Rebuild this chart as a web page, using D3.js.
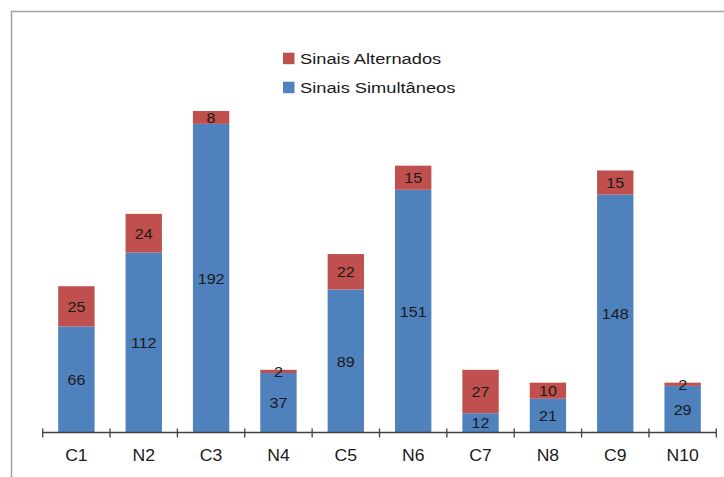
<!DOCTYPE html>
<html>
<head>
<meta charset="utf-8">
<script src="https://cdn.jsdelivr.net/npm/d3@7"></script>
<style>
  body { margin: 0; background: #fff; }
  text { font-family: "Liberation Sans", Arial, sans-serif; fill: #1a1a1a; }
</style>
</head>
<body>
<script>
// categories and the two stacked series
var categories = ["C1", "N2", "C3", "N4", "C5", "N6", "C7", "N8", "C9", "N10"];
var simultaneos = [66, 112, 192, 37, 89, 151, 12, 21, 148, 29];
var alternados = [25, 24, 8, 2, 22, 15, 27, 10, 15, 2];
var seriesNames = ["Sinais Alternados", "Sinais Simultâneos"];
var seriesColors = ["#c0504d", "#4f81bd"];

var w = 724, h = 477;

var svg = d3.select("body").append("svg")
  .attr("width", w)
  .attr("height", h);

// frame (only top and left edges are visible in the crop)
svg.append("path")
  .attr("d", "M11.5," + h + "V11.5H" + w)
  .attr("fill", "none")
  .attr("stroke", "#a0a0a0")
  .attr("stroke-width", 1.5);

var x = d3.scaleBand()
  .domain(categories)
  .range([42.7, 716.3])
  .paddingInner(0.46)
  .paddingOuter(0.23);

var y = d3.scaleLinear()
  .domain([0, 200])
  .range([432.5, 111]);

// stacked rows
var rows = categories.map(function(c, i) {
  return { cat: c, sim: simultaneos[i], alt: alternados[i] };
});

// blue (bottom) segments
svg.selectAll("rect.sim")
  .data(rows)
  .enter()
  .append("rect")
  .attr("class", "sim")
  .attr("x", function(d) { return x(d.cat); })
  .attr("width", x.bandwidth())
  .attr("y", function(d) { return y(d.sim); })
  .attr("height", function(d) { return y(0) - y(d.sim); })
  .attr("fill", seriesColors[1]);

// red (top) segments
svg.selectAll("rect.alt")
  .data(rows)
  .enter()
  .append("rect")
  .attr("class", "alt")
  .attr("x", function(d) { return x(d.cat); })
  .attr("width", x.bandwidth())
  .attr("y", function(d) { return y(d.sim + d.alt); })
  .attr("height", function(d) { return y(d.sim) - y(d.sim + d.alt); })
  .attr("fill", seriesColors[0]);

// value labels
function addLabels(cls, lo, hi) {
  svg.selectAll("text." + cls)
    .data(rows)
    .enter()
    .append("text")
    .attr("class", cls)
    .attr("transform", function(d) {
      var cx = x(d.cat) + x.bandwidth() / 2;
      var cy = (y(lo(d)) + y(hi(d))) / 2;
      return "translate(" + cx + "," + cy + ") scale(1.04,1)";
    })
    .attr("dy", "0.36em")
    .attr("text-anchor", "middle")
    .style("font-size", "15.5px")
    .text(function(d) { return hi(d) - lo(d); });
}
addLabels("lsim", function(d) { return 0; }, function(d) { return d.sim; });
addLabels("lalt", function(d) { return d.sim; }, function(d) { return d.sim + d.alt; });

// x axis with ticks between categories
var axisY = y(0);
svg.append("line")
  .attr("x1", 42.7).attr("x2", 716.3)
  .attr("y1", axisY).attr("y2", axisY)
  .attr("stroke", "#404040")
  .attr("stroke-width", 1.3);

var tickPos = categories.map(function(c) { return x(c) - x.step() * x.paddingInner() / 2; });
tickPos.push(716.3);
tickPos[0] = 42.7;
svg.selectAll("line.tick")
  .data(tickPos)
  .enter()
  .append("line")
  .attr("class", "tick")
  .attr("x1", function(d) { return d; })
  .attr("x2", function(d) { return d; })
  .attr("y1", axisY - 4)
  .attr("y2", axisY + 5)
  .attr("stroke", "#404040")
  .attr("stroke-width", 1.3);

svg.selectAll("text.cat")
  .data(categories)
  .enter()
  .append("text")
  .attr("class", "cat")
  .attr("transform", function(d) {
    return "translate(" + (x(d) + x.bandwidth() / 2) + ",461) scale(1.1,1)";
  })
  .attr("text-anchor", "middle")
  .style("font-size", "16px")
  .text(function(d) { return d; });

// legend
var legend = svg.selectAll("g.legend")
  .data(seriesNames)
  .enter()
  .append("g")
  .attr("class", "legend")
  .attr("transform", function(d, i) { return "translate(283," + (52.7 + i * 29) + ")"; });

legend.append("rect")
  .attr("width", 11.5)
  .attr("height", 11.5)
  .attr("fill", function(d, i) { return seriesColors[i]; });

legend.append("text")
  .attr("transform", "translate(17,11.5) scale(1.18,1)")
  .style("font-size", "15.5px")
  .text(function(d) { return d; });
</script>
</body>
</html>
